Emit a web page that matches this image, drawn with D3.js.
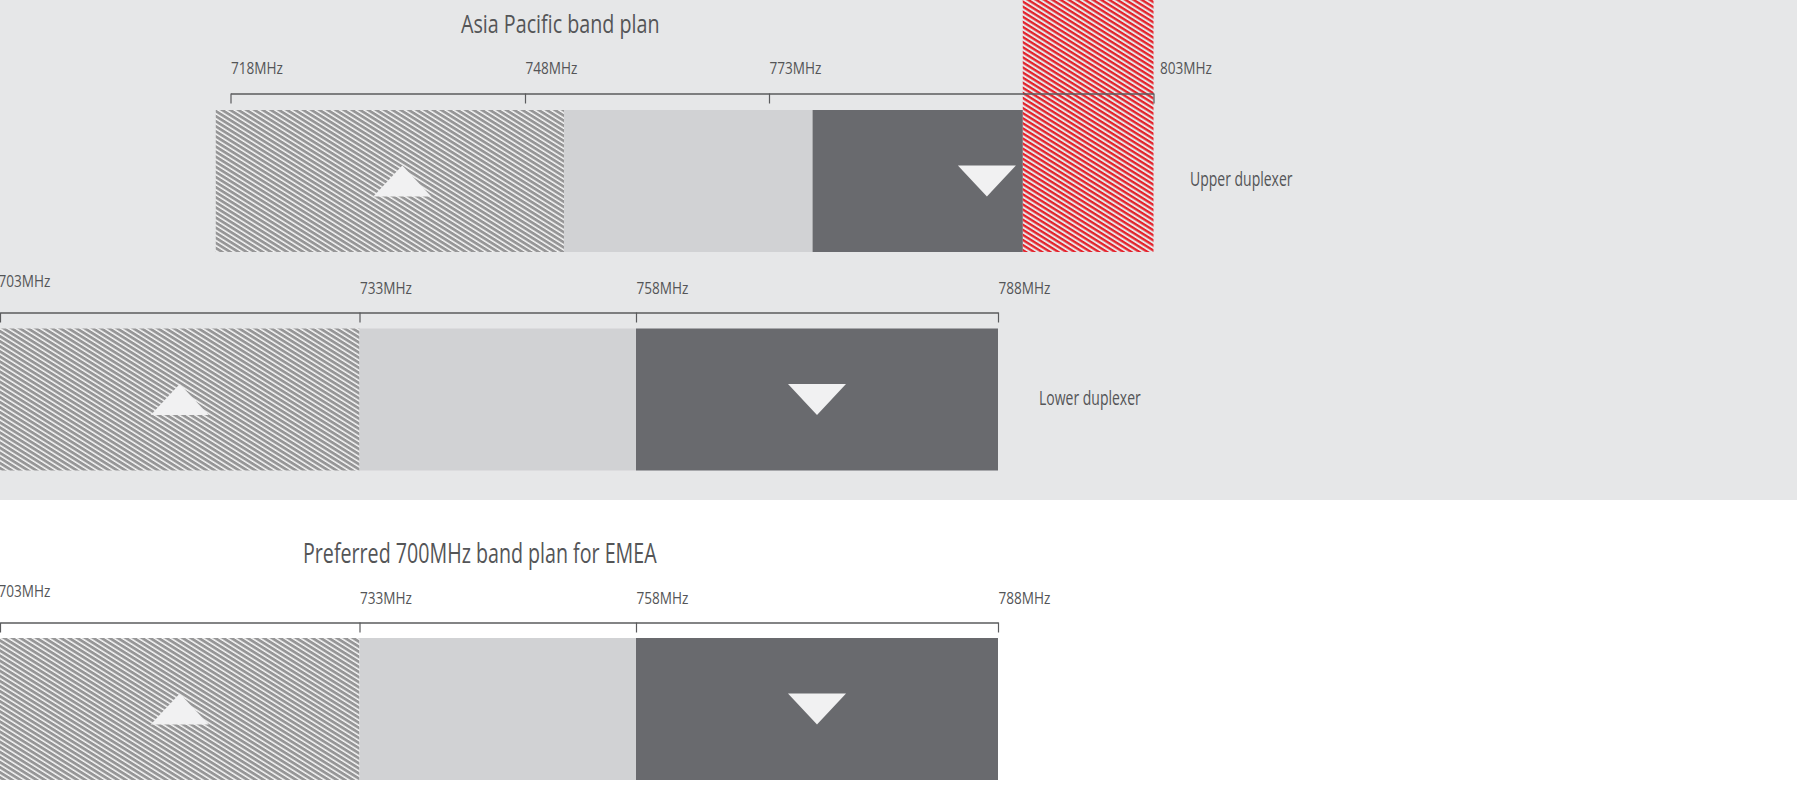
<!DOCTYPE html>
<html><head><meta charset="utf-8">
<script src="https://cdn.jsdelivr.net/npm/d3@7"></script>
<style>
body{margin:0;background:#fff;overflow:hidden}
svg{display:block}
text{font-family:"Open Sans","Noto Sans",sans-serif;fill:#545557}
</style>
</head><body>
<svg id="chart" width="1797" height="787"></svg>
<script>
// ---------- data ----------
const apacTitle = "Asia Pacific band plan";
const emeaTitle = "Preferred 700MHz band plan for EMEA";
const upperTicks = [718, 748, 773, 803];
const lowerTicks = [703, 733, 758, 788];
const emeaTicks  = [703, 733, 758, 788];
// band edges (MHz) and the kind of each band between two edges
const upperEdges = [716.5, 752, 776.4, 792.8, 803];
const upperKinds = ["uplink", "gap", "downlink", "overlap"];
const lowerEdges = [703, 733, 758, 788];
const lowerKinds = ["uplink", "gap", "downlink"];
const emeaEdges  = [703, 733, 758, 788];
const emeaKinds  = ["uplink", "gap", "downlink"];
// direction arrows (MHz position, direction)
const upperArrows = [735.5, 790];
const lowerArrows = [718, 773];
const emeaArrows  = [718, 773];
const arrowDirs   = ["up", "down"];
const duplexerNames = ["Upper duplexer", "Lower duplexer"];

// ---------- layout ----------
const W = 1797, H = 787;
const svg = d3.select("#chart");
const defs = svg.append("defs");

const gHatch = defs.append("pattern").attr("id", "hatchGray")
  .attr("patternUnits", "userSpaceOnUse").attr("width", 10).attr("height", 4.3)
  .attr("patternTransform", "rotate(32)");
gHatch.append("rect").attr("width", 10).attr("height", 4.3).attr("fill", "#f6f6f6");
gHatch.append("rect").attr("width", 10).attr("height", 2.8).attr("fill", "#969697");

const rHatch = defs.append("pattern").attr("id", "hatchRed")
  .attr("patternUnits", "userSpaceOnUse").attr("width", 10).attr("height", 4.3)
  .attr("patternTransform", "rotate(32)");
rHatch.append("rect").attr("width", 10).attr("height", 2.3).attr("fill", "#e4222b");

const fills = {uplink: "url(#hatchGray)", gap: "#d1d2d4", downlink: "#696a6e"};

// top grey panel background
svg.append("rect").attr("x", 0).attr("y", 0).attr("width", W).attr("height", 500).attr("fill", "#e6e7e8");

const panels = [
  {ticks: upperTicks, edges: upperEdges, kinds: upperKinds, arrows: upperArrows,
   range: [230.5, 525, 769, 1153.5], axisY: 93.5, labelY: 73.5, rectY: 110, rectH: 142,
   firstDx: 0, firstDy: 0, lastDx: 6, name: duplexerNames[0], nameX: 1190, nameY: 186},
  {ticks: lowerTicks, edges: lowerEdges, kinds: lowerKinds, arrows: lowerArrows,
   range: [0, 359.5, 636, 998], axisY: 312.5, labelY: 294, rectY: 328.5, rectH: 142,
   firstDx: -2, firstDy: -7, lastDx: 0, name: duplexerNames[1], nameX: 1039, nameY: 405},
  {ticks: emeaTicks, edges: emeaEdges, kinds: emeaKinds, arrows: emeaArrows,
   range: [0, 359.5, 636, 998], axisY: 622.5, labelY: 604, rectY: 638, rectH: 142,
   firstDx: -2, firstDy: -7, lastDx: 0, name: null}
];

const labelScale = 0.8;

panels.forEach(p => {
  const x = d3.scaleLinear().domain(p.ticks).range(p.range);
  const g = svg.append("g");

  // bands
  const bands = p.kinds.map((k, i) => ({kind: k, from: p.edges[i], to: p.edges[i + 1]}));
  g.selectAll("rect.band").data(bands.filter(b => b.kind !== "overlap")).join("rect")
    .attr("class", "band")
    .attr("x", d => x(d.from)).attr("y", p.rectY)
    .attr("width", d => x(d.to) - x(d.from)).attr("height", p.rectH)
    .attr("fill", d => fills[d.kind]);

  // overlap (red hatched) region extends to the top
  g.selectAll("rect.overlap").data(bands.filter(b => b.kind === "overlap")).join("rect")
    .attr("class", "overlap")
    .attr("x", d => x(d.from)).attr("y", 0)
    .attr("width", d => x(d.to) - x(d.from)).attr("height", p.rectY + p.rectH)
    .attr("fill", "url(#hatchRed)");

  // arrows
  const tw = 58, th = 31, cy = p.rectY + p.rectH / 2;
  g.selectAll("path.arrow").data(p.arrows.map((f, i) => ({f, dir: arrowDirs[i]}))).join("path")
    .attr("class", "arrow")
    .attr("d", d => {
      const cx = x(d.f), pa = d3.path();
      if (d.dir === "up") {
        pa.moveTo(cx, cy - th / 2); pa.lineTo(cx + tw / 2, cy + th / 2); pa.lineTo(cx - tw / 2, cy + th / 2);
      } else {
        pa.moveTo(cx - tw / 2, cy - th / 2); pa.lineTo(cx + tw / 2, cy - th / 2); pa.lineTo(cx, cy + th / 2);
      }
      pa.closePath();
      return pa.toString();
    })
    .attr("fill", "#f1f1f2");

  // axis (ticks hang downwards, labels above)
  const axis = d3.axisBottom(x).tickValues(p.ticks).tickSize(10).tickSizeOuter(0)
    .tickFormat(d => d + "MHz");
  const ag = g.append("g").attr("transform", `translate(0,${p.axisY})`).call(axis);
  ag.select(".domain").attr("stroke", "#5a5b5d").attr("stroke-width", 1.4);
  ag.selectAll(".tick line").attr("stroke", "#5a5b5d").attr("stroke-width", 1.2);
  const n = p.ticks.length;
  ag.selectAll(".tick text")
    .attr("fill", "#58595b").attr("font-size", 17).attr("font-family", null)
    .attr("text-anchor", "start").attr("dy", null).attr("y", null)
    .attr("transform", (d, i) => {
      const dx = i === 0 ? p.firstDx : (i === n - 1 ? p.lastDx : 0);
      const dy = (p.labelY - p.axisY) + (i === 0 ? p.firstDy : 0);
      return `translate(${dx},${dy}) scale(${labelScale},1)`;
    });

  if (p.name) {
    g.append("text").attr("transform", `translate(${p.nameX},${p.nameY}) scale(0.70,1)`)
      .attr("font-size", 20).attr("fill", "#58595b").text(p.name);
  }
});

// titles
svg.append("text").attr("transform", "translate(461,33.3) scale(0.77,1)")
  .attr("font-size", 25.6).attr("fill", "#4f5052").text(apacTitle);
svg.append("text").attr("transform", "translate(303,563.3) scale(0.715,1)")
  .attr("font-size", 27.5).attr("fill", "#4f5052").text(emeaTitle);
</script>
</body></html>
